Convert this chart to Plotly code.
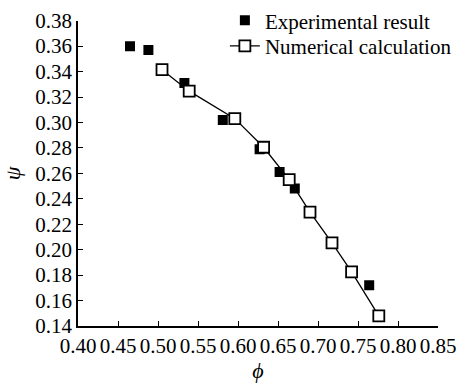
import plotly.graph_objects as go

exp_phi = [0.465, 0.488, 0.533, 0.581, 0.627, 0.652, 0.671, 0.764]
exp_psi = [0.360, 0.357, 0.331, 0.302, 0.279, 0.261, 0.248, 0.172]

num_phi = [0.505, 0.539, 0.596, 0.632, 0.664, 0.690, 0.7175, 0.742, 0.776]
num_psi = [0.3415, 0.3246, 0.303, 0.2805, 0.255, 0.2295, 0.2054, 0.1826, 0.148]

x_ticks = [0.40, 0.45, 0.50, 0.55, 0.60, 0.65, 0.70, 0.75, 0.80, 0.85]
y_ticks = [0.14, 0.16, 0.18, 0.20, 0.22, 0.24, 0.26, 0.28, 0.30, 0.32, 0.34, 0.36, 0.38]

font = "Liberation Serif"

fig = go.Figure()
fig.add_trace(go.Scatter(
    x=exp_phi, y=exp_psi, mode="markers", name="Experimental result",
    marker=dict(symbol="square", size=10, color="black", line=dict(width=0)),
    legend="legend",
))
fig.add_trace(go.Scatter(
    x=num_phi, y=num_psi, mode="lines+markers", name="Numerical calculation",
    line=dict(color="black", width=1.3),
    marker=dict(symbol="square", size=11, color="white", line=dict(color="black", width=1.8)),
    legend="legend2",
))

axis_common = dict(
    showgrid=False, zeroline=False, showline=True, linecolor="black", linewidth=1.5,
    ticks="inside", ticklen=5, tickwidth=1.3, tickcolor="black",
    tickfont=dict(family=font, size=21, color="black"),
    mirror=False, automargin=False, tickangle=0,
)

legend_common = dict(
    xanchor="left", yanchor="middle",
    bgcolor="rgba(0,0,0,0)", font=dict(family=font, size=21, color="black"),
    itemwidth=30, tracegroupgap=0,
)

fig.update_layout(
    width=458, height=383,
    margin=dict(l=78, r=20, t=0, b=57),
    paper_bgcolor="white", plot_bgcolor="white",
    font=dict(family=font, color="black"),
    showlegend=True,
    legend=dict(x=0.408, y=0.957, **legend_common),
    legend2=dict(x=0.408, y=0.877, **legend_common),
    xaxis=dict(
        range=[0.40, 0.85], tickvals=x_ticks,
        ticktext=[f"{v:.2f}" for v in x_ticks],
        title=dict(text="<i>ϕ</i>", font=dict(family=font, size=22), standoff=4),
        **axis_common,
    ),
    yaxis=dict(
        range=[0.14, 0.38], tickvals=y_ticks, domain=[0, 312 / 326],
        ticktext=[f"{v:.2f}" for v in y_ticks],
        title=dict(text="<i>ψ</i>", font=dict(family=font, size=22), standoff=12),
        **axis_common,
    ),
)

fig.write_html(
    "out.html",
    config={"displayModeBar": False},
    post_script="document.body.style.margin='0';document.body.style.overflow='hidden';",
)
